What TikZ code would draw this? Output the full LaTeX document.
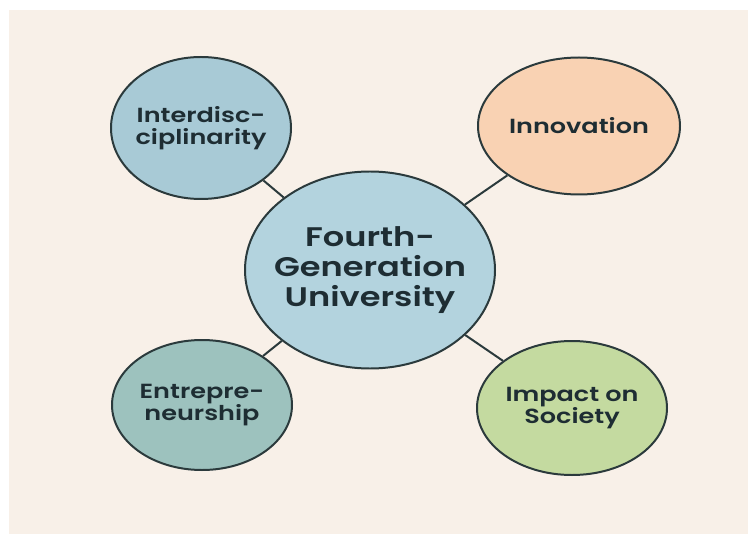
\documentclass[tikz,border=0pt]{standalone}
\usepackage{fontspec}
\setmainfont{Poppins}[FakeStretch=1.25, BoldFont={Poppins SemiBold}]
\usetikzlibrary{shapes.geometric}
\definecolor{paper}{HTML}{F8F0E8}
\definecolor{inkline}{HTML}{2B3A3C}
\definecolor{inktext}{HTML}{1E2D33}
\definecolor{hubfill}{HTML}{B3D3DE}
\definecolor{interfill}{HTML}{A8CAD6}
\definecolor{innofill}{HTML}{F9D2B3}
\definecolor{entrefill}{HTML}{9DC2BE}
\definecolor{impactfill}{HTML}{C4DAA0}
% negative horizontal inner sep keeps each ellipse at its minimum size
\tikzset{
  bubble/.style={ellipse, draw=inkline, line width=2pt, inner ysep=0pt,
    inner xsep=-12bp, text=inktext, align=center,
    font=\bfseries\fontsize{20.5}{21.5}\selectfont},
  hub/.style={bubble, font=\bfseries\fontsize{27}{30.5}\selectfont},
  link/.style={draw=inkline, line width=2pt}
}
\begin{document}
\begin{tikzpicture}[x=1bp,y=-1bp]
  \useasboundingbox (0,0) rectangle (748,534);
  \fill[white] (0,0) rectangle (748,534);
  \fill[paper] (9,10) rectangle (748,534);

  \node[hub, fill=hubfill, minimum width=250bp, minimum height=197bp]
    (hub) at (370,270) {Fourth-\\Generation\\University};
  \node[bubble, fill=interfill, minimum width=180bp, minimum height=142bp]
    (inter) at (201,128) {Interdisc-\\ciplinarity};
  \node[bubble, fill=innofill, minimum width=202bp, minimum height=137bp]
    (inno) at (579,126) {Innovation};
  \node[bubble, fill=entrefill, minimum width=180bp, minimum height=130bp]
    (entre) at (202,405) {Entrepre-\\neurship};
  \node[bubble, fill=impactfill, minimum width=190bp, minimum height=134bp]
    (impact) at (572,408) {Impact on\\Society};

  \draw[link] (hub) -- (inter);
  \draw[link] (hub) -- (inno);
  \draw[link] (hub) -- (entre);
  \draw[link] (hub) -- (impact);
\end{tikzpicture}
\end{document}
